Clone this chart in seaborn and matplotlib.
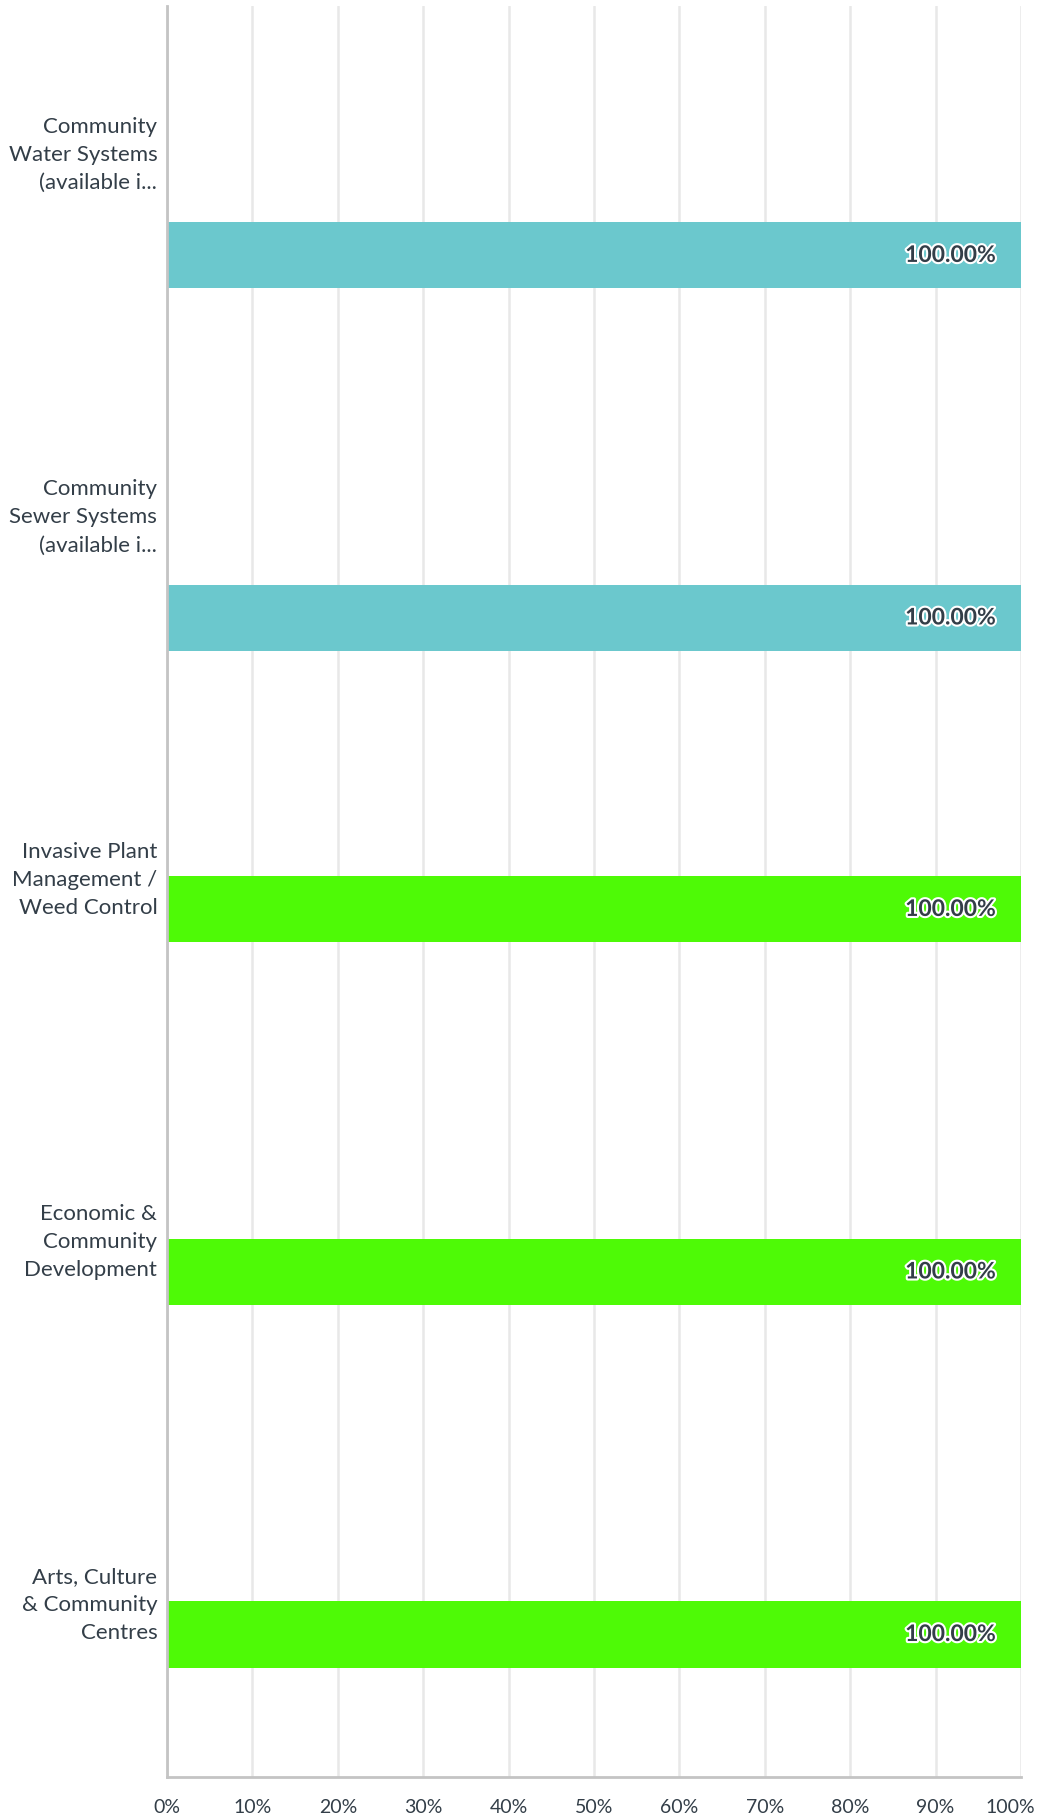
import pandas as pd
import matplotlib
matplotlib.use("Agg")
import matplotlib.pyplot as plt
import matplotlib.patheffects as pe
import matplotlib.transforms as mtrans
import seaborn as sns

# chart data
categories = [
    "Community\nWater Systems\n(available i...",
    "Community\nSewer Systems\n(available i...",
    "Invasive Plant\nManagement /\nWeed Control",
    "Economic &\nCommunity\nDevelopment",
    "Arts, Culture\n& Community\nCentres",
]
values = [100.0, 100.0, 100.0, 100.0, 100.0]
series = ["Series 4", "Series 4", "Series 3", "Series 3", "Series 3"]
series_order = ["Series 1", "Series 2", "Series 3", "Series 4"]
series_colors = ["#F7B234", "#A3A3A3", "#4EFA06", "#6BC8CD"]
x_ticks = [0, 10, 20, 30, 40, 50, 60, 70, 80, 90, 100]
x_tick_labels = ["0%", "10%", "20%", "30%", "40%", "50%", "60%", "70%", "80%", "90%", "100%"]

text_color = "#333E48"

sns.set_theme(style="white")
plt.rcParams["font.family"] = ["Lato", "DejaVu Sans"]

df = pd.DataFrame({"category": categories, "value": values, "series": series})

fig = plt.figure(figsize=(10.42, 18.19), dpi=100)
ax = fig.add_axes([167 / 1042, 1 - 1777 / 1819, (1021 - 167) / 1042, (1777 - 6) / 1819])

sns.barplot(data=df, y="category", x="value", hue="series", order=categories,
            hue_order=series_order, palette=dict(zip(series_order, series_colors)),
            orient="h", width=0.784, gap=0.07, dodge=True, saturation=1,
            linewidth=0, legend=False, ax=ax, zorder=3)

ax.set_xlim(0, 100)
ax.set_ylim(4.491, -0.394)
ax.set_xticks(x_ticks)
ax.set_xticklabels(x_tick_labels)
ax.set_xlabel("")
ax.set_ylabel("")

ax.grid(axis="x", color="#E8E8E8", linewidth=1.8, zorder=0)
ax.grid(axis="y", visible=False)
for side in ["top", "right"]:
    ax.spines[side].set_visible(False)
ax.spines["left"].set_color("#C4C4C4")
ax.spines["left"].set_linewidth(2)
ax.spines["bottom"].set_color("#C4C4C4")
ax.spines["bottom"].set_linewidth(2)
ax.spines["left"].set_zorder(4)

ax.tick_params(axis="x", length=0, pad=16, labelsize=14, labelcolor=text_color)
ax.tick_params(axis="y", length=0, pad=7, labelsize=16, labelcolor=text_color)
for lbl in ax.get_yticklabels():
    lbl.set_linespacing(1.5)

# keep the last x tick label inside the figure
last = ax.get_xticklabels()[-1]
last.set_transform(last.get_transform() + mtrans.ScaledTranslation(-11 / 100, 0, fig.dpi_scale_trans))

# value labels at the end of each bar
for patch in ax.patches:
    w = patch.get_width()
    if w <= 0 or pd.isna(w):
        continue
    cy = patch.get_y() + patch.get_height() / 2
    ax.annotate(f"{w:.2f}%", xy=(w, cy), xytext=(-18, 0), textcoords="offset points",
                ha="right", va="center", fontsize=16.5, fontweight="bold",
                color=text_color, zorder=5,
                path_effects=[pe.withStroke(linewidth=3, foreground="white")])

fig.savefig("out.png", dpi=100)
